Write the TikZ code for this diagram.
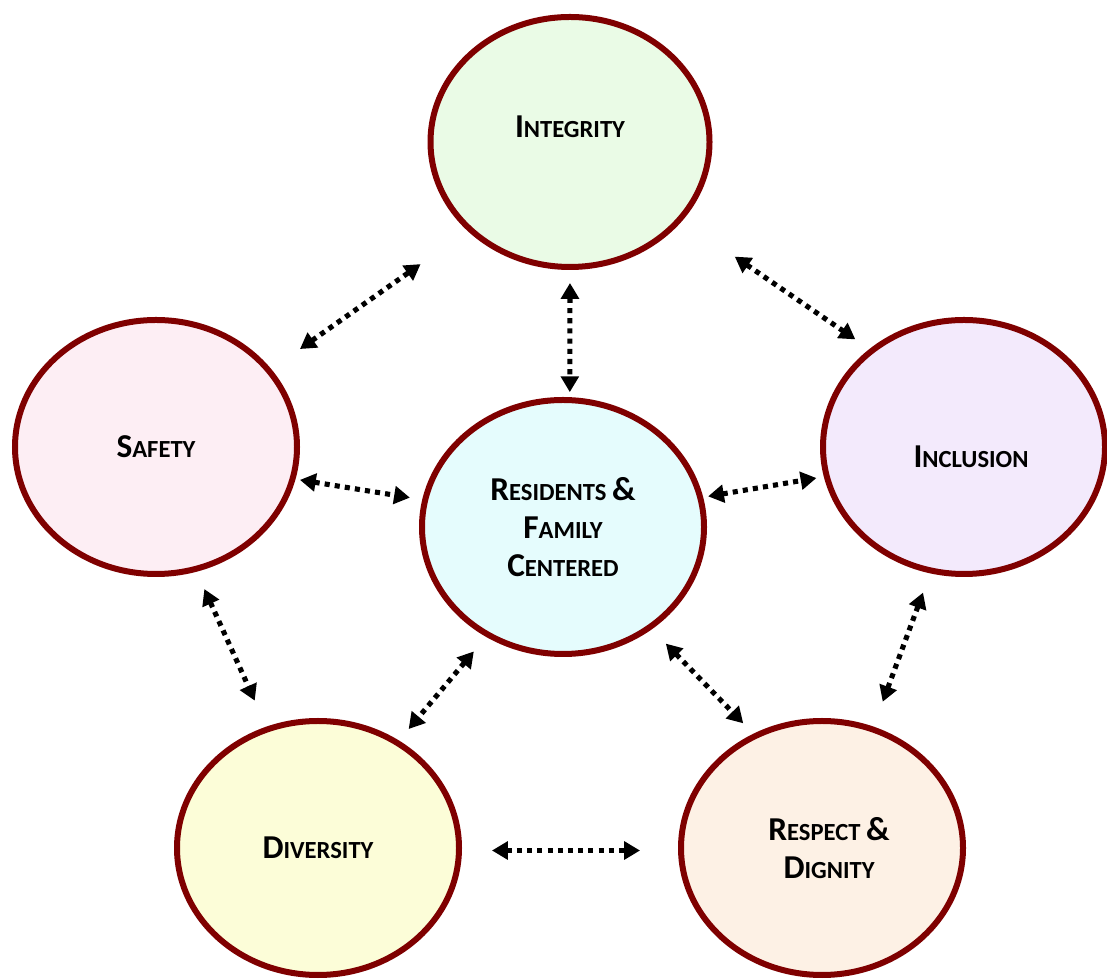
\documentclass[tikz,border=0pt]{standalone}
\usepackage{fontspec}
\setmainfont{Carlito}
\usepackage{tikz}
\usetikzlibrary{shapes.geometric,arrows.meta}

\definecolor{rim}{HTML}{7F0000}
\definecolor{fillint}{HTML}{EAFBE6}
\definecolor{fillsaf}{HTML}{FDEEF4}
\definecolor{fillres}{HTML}{E5FCFD}
\definecolor{fillinc}{HTML}{F3EAFC}
\definecolor{filldiv}{HTML}{FCFDD8}
\definecolor{fillrsp}{HTML}{FDF1E5}
\newcommand\capl[1]{{\fontsize{19}{22}\selectfont #1}}

\begin{document}
\begin{tikzpicture}[
  value/.style={ellipse, draw=rim, line width=0.12cm, minimum width=5.64cm, minimum height=5.08cm,
    align=center, font=\bfseries\fontsize{14}{21.5}\selectfont},
  lbl/.style={align=center, font=\bfseries\fontsize{14}{21.5}\selectfont},
  link/.style={line width=2.9pt, dash pattern=on 2.9pt off 2.9pt,
    {Triangle[length=9pt,width=10pt]}-{Triangle[length=9pt,width=10pt]}}]
  \useasboundingbox (0,0) rectangle (22.14,19.6);
  % the six values
  \node[value, fill=fillint, minimum width=5.58cm, minimum height=5cm,
    label={[lbl,yshift=3mm]center:\capl{I}NTEGRITY}] (int) at (11.40,16.76) {};
  \node[value, fill=fillsaf] (saf) at (3.12,10.66) {\capl{S}AFETY};
  \node[value, fill=fillres] (res) at (11.26,9.06) {\capl{R}ESIDENTS \capl{\&}\\ \capl{F}AMILY\\ \capl{C}ENTERED};
  \node[value, fill=fillinc, label={[lbl,xshift=1.4mm,yshift=-2mm]center:\capl{I}NCLUSION}] (inc) at (19.28,10.66) {};
  \node[value, fill=filldiv] (div) at (6.36,2.64) {\capl{D}IVERSITY};
  \node[value, fill=fillrsp, label={[lbl,xshift=1.4mm]center:\capl{R}ESPECT \capl{\&}\\ \capl{D}IGNITY}] (rsp) at (16.44,2.64) {};
  % links
  \path[link]
  (saf.34) edge[shorten <=0.70cm, shorten >=1.15cm] (int.221)
  (int.270) edge[shorten <=0.26cm, shorten >=0.10cm] (res.87)
  (int.325) edge[shorten <=1.27cm, shorten >=0.34cm] (inc.134)
  (saf.347) edge[shorten <=0.09cm, shorten >=0.25cm] (res.169)
  (res.12) edge[shorten <=0.10cm, shorten >=0.15cm] (inc.192)
  (saf.288) edge[shorten <=0.38cm, shorten >=0.57cm] (div.113)
  (res.235) edge[shorten <=0.38cm, shorten >=0.30cm] (div.53)
  (res.311) edge[shorten <=0.40cm, shorten >=0.29cm] (rsp.121)
  (inc.255) edge[shorten <=0.41cm, shorten >=0.53cm] (rsp.67)
  (div.359) edge[shorten <=0.60cm, shorten >=0.76cm] (rsp.181);
\end{tikzpicture}
\end{document}
